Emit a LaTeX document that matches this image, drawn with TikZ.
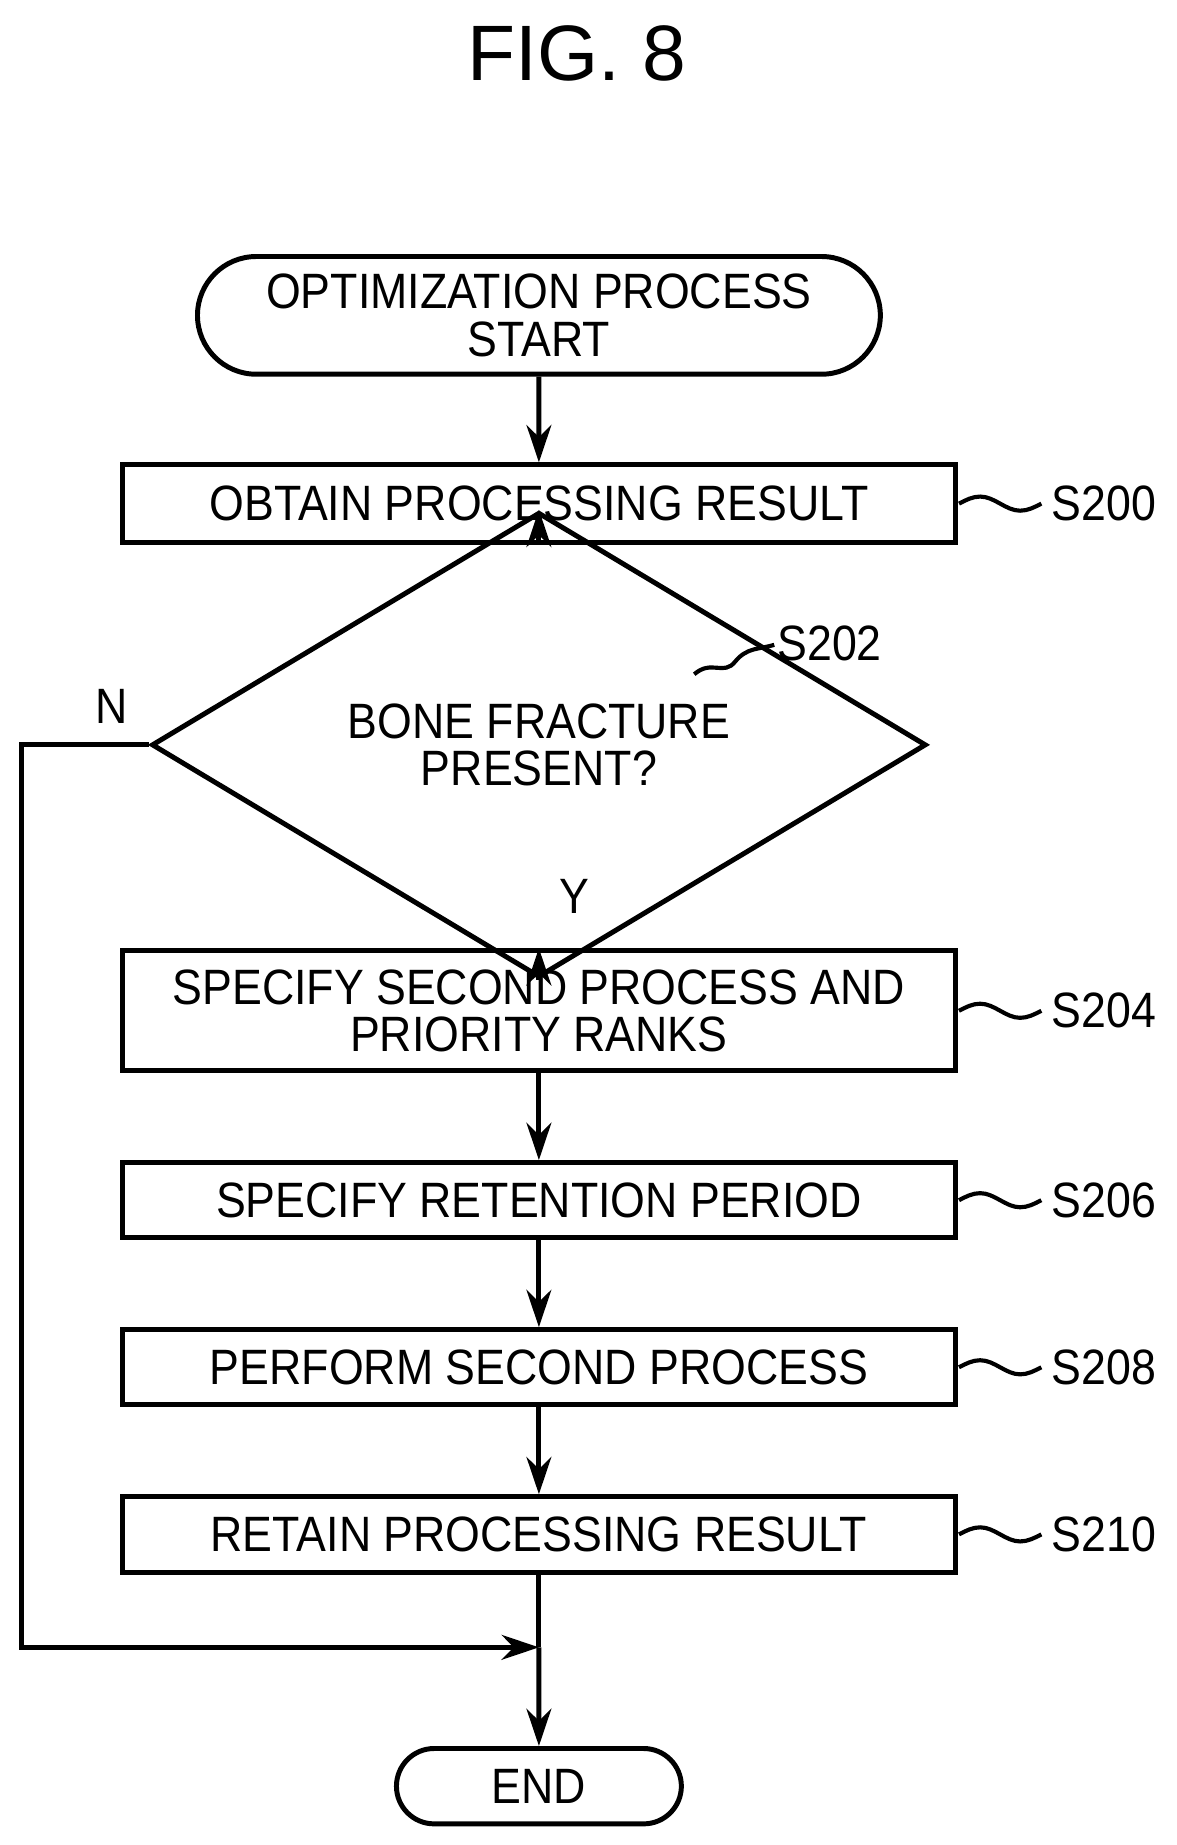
\documentclass[tikz,border=0pt]{standalone}
\usepackage{fontspec}
\setmainfont{Liberation Sans}
\newfontfamily\figfont{Liberation Sans}
\newfontfamily\boxfont[FakeStretch=0.9]{Liberation Sans}
\usetikzlibrary{shapes.geometric,shapes.misc,arrows.meta,positioning}

\tikzset{
  base/.style={draw, line width=1.2pt, align=center, inner sep=0pt,
    font=\boxfont\fontsize{12}{11.5}\selectfont},
  proc/.style={base, rectangle, minimum width=7.08cm},
  term/.style={base, rounded rectangle},
  test/.style={base, diamond, minimum width=6.58cm, minimum height=1.9cm},
  flow/.style={line width=1.2pt, -{Stealth[length=9pt,width=6pt]}},
  lbl/.style={font=\boxfont\fontsize{12}{11.5}\selectfont},
  squig/.style={line width=1pt}
}

\begin{document}
\begin{tikzpicture}[x=0.01cm,y=-0.01cm]
\useasboundingbox (0,0) rectangle (1000,1568);
\node[font=\figfont\fontsize{19}{19}\selectfont] (title) at (490,45) {FIG. 8};

\node[term, minimum width=5.8cm, minimum height=1.0cm] (start) at (458,268) {OPTIMIZATION PROCESS\\START};
\node[proc, minimum height=0.66cm] (s200) at (458,428) {OBTAIN PROCESSING RESULT};
\node[test] (s202) at (458,633) {BONE FRACTURE\\PRESENT?};
\node[proc, minimum height=1.02cm] (s204) at (458,859) {SPECIFY SECOND PROCESS AND\\PRIORITY RANKS};
\node[proc, minimum height=0.64cm] (s206) at (458,1020) {SPECIFY RETENTION PERIOD};
\node[proc, minimum height=0.64cm] (s208) at (458,1162) {PERFORM SECOND PROCESS};
\node[proc, minimum height=0.64cm] (s210) at (458,1304) {RETAIN PROCESSING RESULT};
\coordinate (join) at (458,1400);
\coordinate (left) at (18,633);
\node[term, minimum width=2.42cm, minimum height=0.64cm] (end) at (458,1518) {END};

% connectors
\draw[flow] (start) -- (s200);
\draw[flow] (s200) -- (s202);
\draw[flow] (s202) -- (s204);
\draw[flow] (s204) -- (s206);
\draw[flow] (s206) -- (s208);
\draw[flow] (s208) -- (s210);
\draw[line width=1.2pt] (s210) -- (join);
\draw[flow] (join) -- (end);
\draw[flow] (s202.west) -- (left) |- (join);

\node[lbl] (n) at (95,600) {N};
\node[lbl] (y) at (488,762) {Y};

% step labels
\foreach \nm/\yy in {s200/428,s204/859,s206/1020,s208/1162,s210/1304}{
  \draw[squig] (815,\yy) sin (833,\yy-6) cos (850,\yy) sin (867,\yy+6) cos (885,\yy);
}
\node[lbl] (l200) at (938,428) {S200};
\node[lbl] (l204) at (938,859) {S204};
\node[lbl] (l206) at (938,1020) {S206};
\node[lbl] (l208) at (938,1162) {S208};
\node[lbl] (l210) at (938,1304) {S210};
\draw[squig] (590,573) .. controls (605,560) and (615,575) .. (625,562) .. controls (635,550) and (645,552) .. (658,548);
\node[lbl] (l202) at (705,547) {S202};
\end{tikzpicture}
\end{document}
